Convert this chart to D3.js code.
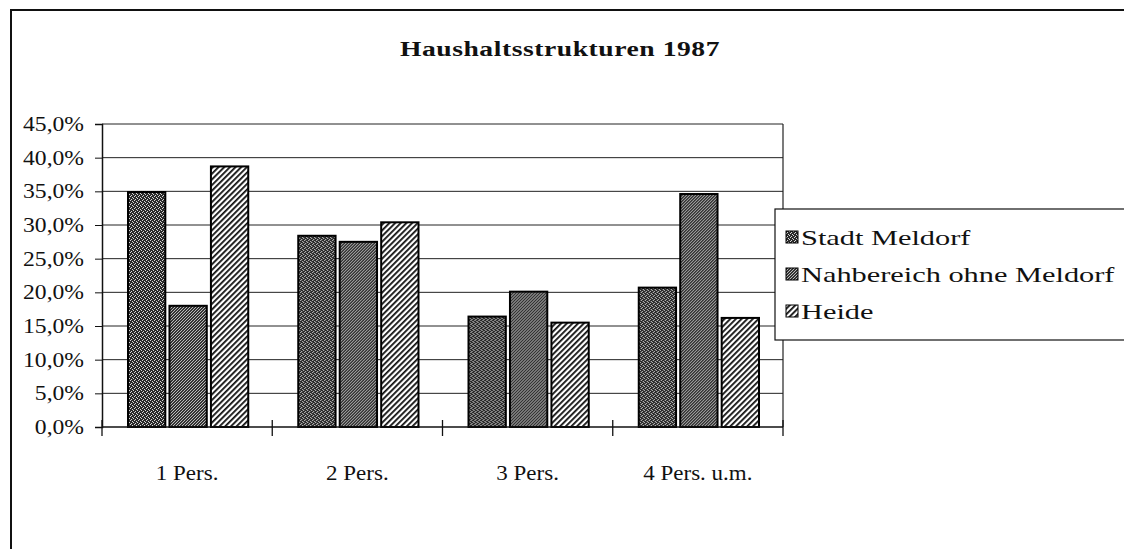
<!DOCTYPE html>
<html>
<head>
<meta charset="utf-8">
<script src="https://cdn.jsdelivr.net/npm/d3@7"></script>
<style>
    body { margin: 0; background: #fff; }
    text { font-family: "Liberation Serif", "Times New Roman", serif; fill: #111; }
</style>
</head>
<body>
<svg id="chart"></svg>
<script>
// data (percent)
const categories = ["1 Pers.", "2 Pers.", "3 Pers.", "4 Pers. u.m."];
const seriesNames = ["Stadt Meldorf", "Nahbereich ohne Meldorf", "Heide"];
const stadtMeldorf = [34.9, 28.4, 16.4, 20.7];
const nahbereich = [18.0, 27.5, 20.1, 34.6];
const heide = [38.7, 30.4, 15.5, 16.2];
const yTicks = [0, 5, 10, 15, 20, 25, 30, 35, 40, 45];
const chartTitle = "Haushaltsstrukturen 1987";

const config = {
    width: 1124,
    height: 549,
    margin: { top: 124, left: 102, right: 341, bottom: 122 }
};

const svg = d3.select("#chart")
    .attr("width", config.width)
    .attr("height", config.height);

const plotW = config.width - config.margin.left - config.margin.right;
const plotH = config.height - config.margin.top - config.margin.bottom;

// patterns for the three series
const defs = svg.append("defs");

const p1 = defs.append("pattern").attr("id", "pat-stadt")
    .attr("width", 4).attr("height", 4).attr("patternUnits", "userSpaceOnUse");
p1.append("rect").attr("width", 4).attr("height", 4).attr("fill", "#2a2a2a");
[[0, 0], [2, 1], [1, 3], [3, 2]].forEach(([x, y]) =>
    p1.append("rect").attr("x", x).attr("y", y).attr("width", 1).attr("height", 1).attr("fill", "#d8d8d8"));

const p2 = defs.append("pattern").attr("id", "pat-nah")
    .attr("width", 3).attr("height", 3).attr("patternUnits", "userSpaceOnUse");
p2.append("rect").attr("width", 3).attr("height", 3).attr("fill", "#333");
[[0, 0], [2, 1], [1, 2]].forEach(([x, y]) =>
    p2.append("rect").attr("x", x).attr("y", y).attr("width", 1).attr("height", 1).attr("fill", "#bbb"));

const p3 = defs.append("pattern").attr("id", "pat-heide")
    .attr("width", 4).attr("height", 4).attr("patternUnits", "userSpaceOnUse")
    .attr("patternTransform", "rotate(45)");
p3.append("rect").attr("width", 4).attr("height", 4).attr("fill", "#fff");
p3.append("rect").attr("width", 1.8).attr("height", 4).attr("fill", "#111");

const fills = ["url(#pat-stadt)", "url(#pat-nah)", "url(#pat-heide)"];

// outer frame
svg.append("path")
    .attr("d", `M11,${config.height} V10 H${config.width}`)
    .attr("fill", "none").attr("stroke", "#111").attr("stroke-width", 2);

// title
svg.append("text")
    .attr("transform", "translate(560,56) scale(1.38,1)")
    .attr("text-anchor", "middle")
    .style("font-size", "20px")
    .style("font-weight", "bold")
    .style("letter-spacing", "0.4px")
    .text(chartTitle);

const chart = svg.append("g")
    .attr("transform", `translate(${config.margin.left},${config.margin.top})`);

const x0 = d3.scaleBand().domain(categories).range([0, plotW]);
const x1 = d3.scaleBand().domain(seriesNames).range([26, x0.bandwidth() - 24]).paddingInner(0.1);
const y = d3.scaleLinear().domain([0, 45]).range([plotH, 0]);

// gridlines
chart.selectAll(".grid").data(yTicks.slice(1))
    .enter().append("line")
    .attr("class", "grid")
    .attr("x1", 0).attr("x2", plotW)
    .attr("y1", d => y(d)).attr("y2", d => y(d))
    .attr("stroke", "#222").attr("stroke-width", 1);

// right border of plot area
chart.append("line")
    .attr("x1", plotW).attr("x2", plotW)
    .attr("y1", 0).attr("y2", plotH)
    .attr("stroke", "#222").attr("stroke-width", 1.2);

// bars
const rows = categories.map((c, i) => ({
    category: c,
    values: [stadtMeldorf[i], nahbereich[i], heide[i]]
}));

const groups = chart.selectAll(".group").data(rows)
    .enter().append("g")
    .attr("class", "group")
    .attr("transform", d => `translate(${x0(d.category)},0)`);

groups.selectAll("rect")
    .data(d => d.values.map((v, k) => ({ name: seriesNames[k], value: v, k })))
    .enter().append("rect")
    .attr("x", d => x1(d.name))
    .attr("y", d => y(d.value))
    .attr("width", x1.bandwidth())
    .attr("height", d => plotH - y(d.value))
    .attr("fill", d => fills[d.k])
    .attr("stroke", "#000")
    .attr("stroke-width", 2);

// y axis
const yAxis = d3.axisLeft(y).tickValues(yTicks).tickSize(7).tickPadding(10)
    .tickFormat(d => d3.format(".1f")(d).replace(".", ",") + "%");
const yAxisG = chart.append("g").call(yAxis);
yAxisG.select(".domain").attr("stroke", "#111").attr("stroke-width", 1.5);
yAxisG.selectAll(".tick line").attr("stroke", "#111");
yAxisG.selectAll(".tick text")
    .style("font-size", "20px")
    .attr("x", 0)
    .attr("transform", "translate(-18,0) scale(1.18,1)");

// x axis with crossing tick marks at the category borders
const xAxisG = chart.append("g").attr("transform", `translate(0,${plotH})`);
xAxisG.append("line")
    .attr("x1", 0).attr("x2", plotW)
    .attr("stroke", "#111").attr("stroke-width", 1.5);
const borders = categories.map(c => x0(c)).concat([plotW]);
xAxisG.selectAll(".xtick").data(borders)
    .enter().append("line")
    .attr("class", "xtick")
    .attr("x1", d => d).attr("x2", d => d)
    .attr("y1", -7).attr("y2", 9)
    .attr("stroke", "#111").attr("stroke-width", 1.3);
xAxisG.selectAll(".xlabel").data(categories)
    .enter().append("text")
    .attr("class", "xlabel")
    .attr("transform", d => `translate(${x0(d) + x0.bandwidth() / 2},53) scale(1.15,1)`)
    .attr("text-anchor", "middle")
    .style("font-size", "20px")
    .text(d => d);

// legend
const legend = svg.append("g").attr("transform", "translate(775,209)");
legend.append("rect")
    .attr("width", 360).attr("height", 131)
    .attr("fill", "#fff").attr("stroke", "#111").attr("stroke-width", 1.2);
const items = legend.selectAll(".item").data(seriesNames)
    .enter().append("g")
    .attr("class", "item")
    .attr("transform", (d, i) => `translate(11,${36 + i * 37})`);
items.append("rect")
    .attr("y", -14).attr("width", 12).attr("height", 12)
    .attr("fill", (d, i) => fills[i])
    .attr("stroke", "#000").attr("stroke-width", 1);
items.append("text")
    .attr("transform", "translate(15,0) scale(1.38,1)")
    .style("font-size", "22px")
    .text(d => d);
</script>
</body>
</html>
